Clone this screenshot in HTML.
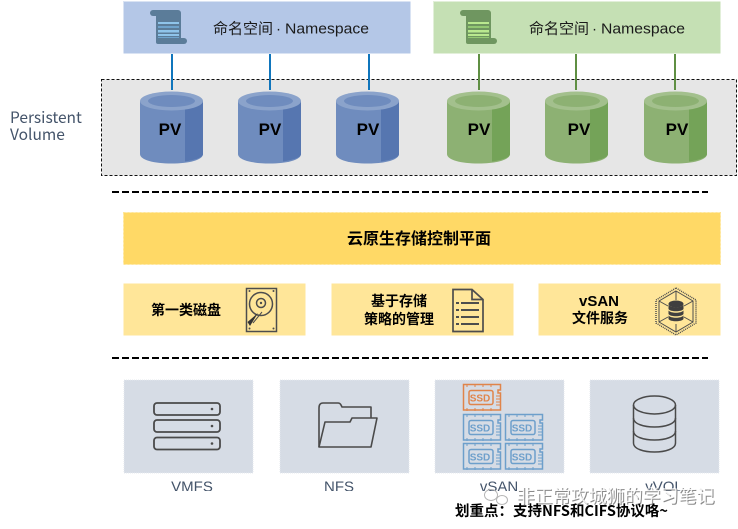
<!DOCTYPE html>
<html lang="zh">
<head>
<meta charset="utf-8">
<title>云原生存储控制平面</title>
<style>
html,body{margin:0;padding:0;background:#fff;width:738px;height:529px;overflow:hidden}
svg{display:block}
text{font-family:"Liberation Sans","Noto Sans CJK SC",sans-serif}
.cjk{font-family:"Noto Sans CJK SC","Liberation Sans",sans-serif}
</style>
</head>
<body>
<svg xmlns="http://www.w3.org/2000/svg" width="738" height="529" viewBox="0 0 738 529">
<defs>
  <clipPath id="labelClip"><rect x="0" y="470" width="738" height="21"/></clipPath>
  <g id="cylB">
    <path d="M0 10 V63 C0 69 14 72.500 31.500 72.500 C49 72.500 63 69 63 63 V10 Z" fill="#6f8cbe"/>
    <path d="M45 10 V70.500 C55 69 63 66.500 63 63 V10 Z" fill="#5676b0"/>
    <ellipse cx="31.500" cy="10" rx="31.500" ry="9.500" fill="#8ba3cb"/>
    <ellipse cx="31.500" cy="10" rx="23.500" ry="6" fill="#6f8cbe"/>
  </g>
  <g id="cylG">
    <path d="M0 10 V63 C0 69 14 72.500 31.500 72.500 C49 72.500 63 69 63 63 V10 Z" fill="#8db173"/>
    <path d="M45 10 V70.500 C55 69 63 66.500 63 63 V10 Z" fill="#74a358"/>
    <ellipse cx="31.500" cy="10" rx="31.500" ry="9.500" fill="#a3c08d"/>
    <ellipse cx="31.500" cy="10" rx="23.500" ry="6" fill="#8db173"/>
  </g>
  <g id="ssdFrame" fill="none" stroke-width="1.500">
    <path d="M0.500 0.500 H37.500 V6 H35 V9 H37.500 V26 H0.500 Z"/>
    <rect x="6" y="6.500" width="24" height="14" rx="2"/>
    <path d="M4 0 V3 M12 0 V3 M20 0 V3 M28 0 V3 M4 24 V27 M12 24 V27 M20 24 V27 M28 24 V27 M33 12 H37 M33 15 H37 M33 18 H37 M33 21 H37" stroke-width="1"/>
  </g>
</defs>

<!-- namespaces -->
<rect x="123.500" y="1.500" width="287" height="52" fill="#b4c7e7" stroke="#d9e3f3" stroke-width="1" stroke-dasharray="2 2"/>
<rect x="433.500" y="1.500" width="287" height="52" fill="#c5e0b4" stroke="#e2efd9" stroke-width="1" stroke-dasharray="2 2"/>

<!-- scroll icons -->
<g fill="#5b7c99">
  <rect x="150" y="10" width="31" height="6" rx="3"/>
  <rect x="156" y="12" width="25" height="32" rx="2"/>
  <rect x="160" y="38" width="27" height="6" rx="3"/>
</g>
<g fill="#8fc4ea">
  <rect x="158" y="22" width="21" height="2"/><rect x="158" y="26" width="21" height="2" fill="#6fa3cc"/>
  <rect x="158" y="30" width="21" height="2.500"/><rect x="158" y="34" width="21" height="2"/><rect x="158" y="37" width="21" height="1" fill="#6fa3cc"/>
</g>
<g fill="#6f9660">
  <rect x="460" y="10" width="31" height="6" rx="3"/>
  <rect x="466" y="12" width="25" height="32" rx="2"/>
  <rect x="470" y="38" width="27" height="6" rx="3"/>
</g>
<g fill="#b9e88f">
  <rect x="468" y="22" width="21" height="2"/><rect x="468" y="26" width="21" height="2" fill="#93c873"/>
  <rect x="468" y="30" width="21" height="2.500"/><rect x="468" y="34" width="21" height="2"/><rect x="468" y="37" width="21" height="1" fill="#93c873"/>
</g>

<g font-size="15" fill="#1a1a1a" class="cjk">
  <text x="213" y="33.500">命名空间</text>
  <text x="276" y="33.500">·</text>
  <text x="285" y="33.500" textLength="84" lengthAdjust="spacingAndGlyphs">Namespace</text>
  <text x="529" y="33.500">命名空间</text>
  <text x="592" y="33.500">·</text>
  <text x="601" y="33.500" textLength="84" lengthAdjust="spacingAndGlyphs">Namespace</text>
</g>

<!-- PV box -->
<rect x="101.500" y="79.500" width="635" height="96" fill="#e6e6e6" stroke="#111" stroke-width="1" stroke-dasharray="3 2"/>
<text x="10" y="123" font-size="15.500" fill="#44546a" class="cjk">Persistent</text>
<text x="10" y="140" font-size="15.500" fill="#44546a" class="cjk">Volume</text>

<!-- connectors -->
<g stroke="#0f75bc" stroke-width="2">
  <path d="M172 54 V90 M270 54 V90 M369 54 V90"/>
</g>
<g stroke="#5f8f43" stroke-width="2">
  <path d="M479 54 V90 M576 54 V90 M675 54 V90"/>
</g>

<!-- cylinders -->
<use href="#cylB" x="140" y="91"/>
<use href="#cylB" x="238" y="91"/>
<use href="#cylB" x="336" y="91"/>
<use href="#cylG" x="447" y="91"/>
<use href="#cylG" x="545" y="91"/>
<use href="#cylG" x="644" y="91"/>
<g font-size="17" font-weight="700" fill="#000" text-anchor="middle" class="cjk">
  <text x="170" y="135">PV</text><text x="270" y="135">PV</text><text x="368" y="135">PV</text>
  <text x="479" y="135">PV</text><text x="579" y="135">PV</text><text x="677" y="135">PV</text>
</g>

<!-- dashed separators -->
<path d="M112 192 H708 M112 358 H708" stroke="#000" stroke-width="2" stroke-dasharray="7 3" fill="none"/>

<!-- control plane -->
<rect x="123.500" y="212.500" width="597" height="52" fill="#ffd966" stroke="#ffe699" stroke-dasharray="2 2"/>
<text x="419" y="244" font-size="16" font-weight="700" text-anchor="middle" class="cjk" fill="#000">云原生存储控制平面</text>

<rect x="123.500" y="283.500" width="182" height="52" fill="#ffe699" stroke="#fff2cc" stroke-dasharray="2 2"/>
<rect x="331.500" y="283.500" width="182" height="52" fill="#ffe699" stroke="#fff2cc" stroke-dasharray="2 2"/>
<rect x="538.500" y="283.500" width="182" height="52" fill="#ffe699" stroke="#fff2cc" stroke-dasharray="2 2"/>

<g font-size="14" font-weight="700" text-anchor="middle" class="cjk" fill="#000">
  <text x="186" y="315">第一类磁盘</text>
  <text x="399" y="306">基于存储</text>
  <text x="399" y="324">策略的管理</text>
  <text x="599" y="306" font-size="15">vSAN</text>
  <text x="600" y="323">文件服务</text>
</g>

<!-- HDD icon -->
<g fill="none" stroke="#4d4d4d">
  <rect x="246.500" y="288.500" width="30" height="43" stroke-width="1.500"/>
  <circle cx="261" cy="304" r="11.500" stroke-width="1.500"/>
  <circle cx="261" cy="303" r="4.500" stroke-width="1.500"/>
  <circle cx="261" cy="303" r="1.200" fill="#4d4d4d" stroke="none"/>
  <path d="M262 312 L253 323" stroke-width="1"/>
</g>
<path d="M258 313 L250 326 L247.500 322 Z" fill="#333"/>
<g fill="#4d4d4d"><circle cx="249.500" cy="291" r="1"/><circle cx="273.500" cy="291" r="1"/><circle cx="249.500" cy="328.500" r="1"/><circle cx="273.500" cy="328.500" r="1"/></g>

<!-- document icon -->
<g fill="none" stroke="#4d4d4d" stroke-width="1.700">
  <path d="M453 289.500 H472 L483 299.500 V331.500 H453 Z"/>
  <path d="M472 289.500 V299.500 H483"/>
  <path d="M461 303 H479 M461 310 H479 M461 317 H479 M461 324 H479" stroke-width="2"/>
  <path d="M456 303 H459 M456 310 H459 M456 317 H459 M456 324 H459" stroke-width="2"/>
</g>

<!-- hexagon DB icon -->
<g fill="none" stroke="#4d4d4d">
  <path d="M676 288 L696 300 V323 L676 335 L656 323 V300 Z" stroke-width="1.500" stroke-dasharray="1 1"/>
  <path d="M676 291 L693 301 V322 L676 332 L659 322 V301 Z" stroke-width="1"/>
  <path d="M676 291 V300 M659 301 L668 306 M693 301 L684 306 M659 322 L668 317 M693 322 L684 317 M676 332 V324" stroke-width="1"/>
</g>
<g fill="#3f3f3f">
  <ellipse cx="676" cy="304" rx="7.500" ry="3.500"/>
  <path d="M668.500 305 V309 C670 312 682 312 683.500 309 V305 C681 308 671 308 668.500 305 Z"/>
  <path d="M668.500 310.500 V314 C670 317 682 317 683.500 314 V310.500 C681 313.500 671 313.500 668.500 310.500 Z"/>
  <path d="M668.500 315.500 V319 C670 322 682 322 683.500 319 V315.500 C681 318.500 671 318.500 668.500 315.500 Z"/>
</g>

<!-- bottom cards -->
<g fill="#d6dce5" stroke="#e4e8ee" stroke-dasharray="1 1">
  <rect x="124" y="380" width="129" height="93"/>
  <rect x="280" y="380" width="129" height="93"/>
  <rect x="435" y="380" width="129" height="93"/>
  <rect x="590" y="380" width="129" height="93"/>
</g>

<!-- server icon -->
<g fill="none" stroke="#4a4a4a" stroke-width="1.800">
  <rect x="154" y="403" width="66" height="12" rx="3"/>
  <rect x="154" y="420" width="66" height="12" rx="3"/>
  <rect x="154" y="437.500" width="66" height="12" rx="3"/>
</g>
<g fill="#4a4a4a"><circle cx="212" cy="409" r="1.300"/><circle cx="212" cy="426" r="1.300"/><circle cx="212" cy="443.500" r="1.300"/></g>

<!-- folder icon -->
<g fill="none" stroke="#4a4a4a" stroke-width="1.600" stroke-linejoin="round">
  <path d="M319 447 V408 Q319 403 323 403 H338 Q340 403 341 405 L342 407 H371 V418"/>
  <path d="M319 447 L325 422 H350 L352 418 H377 L371 447 Z"/>
</g>

<!-- SSD icons -->
<use href="#ssdFrame" x="463" y="384" stroke="#e0844a"/>
<use href="#ssdFrame" x="463" y="414" stroke="#6d9fcb"/>
<use href="#ssdFrame" x="505" y="414" stroke="#6d9fcb"/>
<use href="#ssdFrame" x="463" y="443" stroke="#6d9fcb"/>
<use href="#ssdFrame" x="505" y="443" stroke="#6d9fcb"/>
<g font-size="10" font-weight="700" text-anchor="middle">
  <text x="480" y="401.500" fill="#e0844a">SSD</text>
  <text x="480" y="431.500" fill="#6d9fcb">SSD</text>
  <text x="522" y="431.500" fill="#6d9fcb">SSD</text>
  <text x="480" y="460.500" fill="#6d9fcb">SSD</text>
  <text x="522" y="460.500" fill="#6d9fcb">SSD</text>
</g>

<!-- database icon -->
<g fill="none" stroke="#4a4a4a" stroke-width="1.500">
  <ellipse cx="654.500" cy="405" rx="21" ry="9"/>
  <path d="M633.500 405 V443 C633.500 455 675.500 455 675.500 443 V405"/>
  <path d="M633.500 418 C633.500 430 675.500 430 675.500 418"/>
  <path d="M633.500 431 C633.500 443 675.500 443 675.500 431"/>
</g>

<!-- labels (clipped at bottom as in source) -->
<g clip-path="url(#labelClip)" font-size="15" fill="#44546a" text-anchor="middle" class="cjk">
  <text x="192" y="491.500">VMFS</text>
  <text x="339" y="491.500">NFS</text>
  <text x="499" y="491.500">vSAN</text>
  <text x="664" y="491.500">vVOL</text>
</g>

<!-- watermark -->
<g fill="none" stroke="#b5b5b5" stroke-width="1">
  <ellipse cx="491" cy="495" rx="6.500" ry="5.500"/>
  <ellipse cx="502" cy="500" rx="5.500" ry="4.500"/>
</g>
<text x="517.500" y="503.500" font-size="18" class="cjk" fill="#8a8a8a">非正常攻城狮的学习笔记</text>
<text x="516.500" y="502.500" font-size="18" class="cjk" fill="#ffffff" fill-opacity=".85">非正常攻城狮的学习笔记</text>

<text x="455" y="516" font-size="14.500" font-weight="700" class="cjk" fill="#000">划重点：支持NFS和CIFS协议咯~</text>
</svg>
</body>
</html>
